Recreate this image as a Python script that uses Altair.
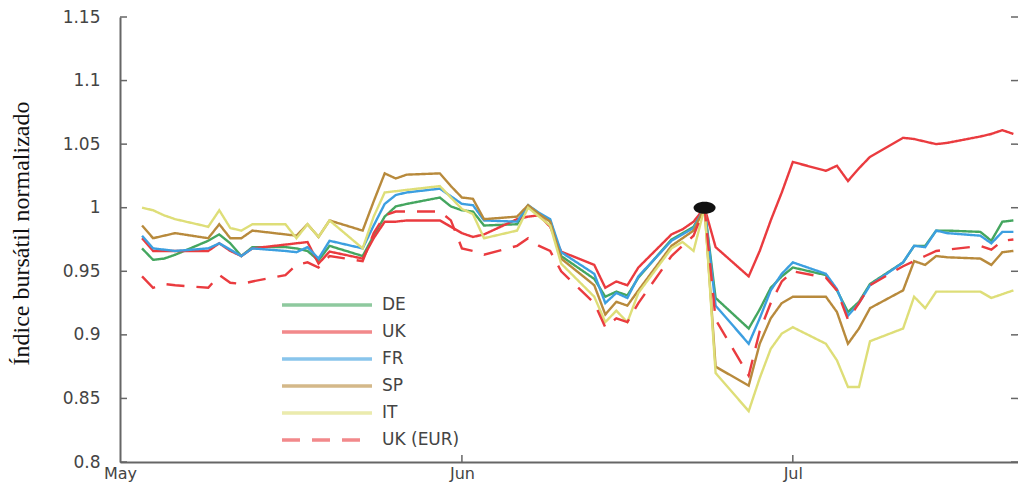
import altair as alt
import pandas as pd

# ---- data ----
DATES = [
    "2016-05-03", "2016-05-04", "2016-05-05", "2016-05-06", "2016-05-09", "2016-05-10",
    "2016-05-11", "2016-05-12", "2016-05-13", "2016-05-16", "2016-05-17", "2016-05-18",
    "2016-05-19", "2016-05-20", "2016-05-23", "2016-05-24", "2016-05-25", "2016-05-26",
    "2016-05-27", "2016-05-30", "2016-05-31",
    "2016-06-01", "2016-06-02", "2016-06-03", "2016-06-06", "2016-06-07", "2016-06-08",
    "2016-06-09", "2016-06-10", "2016-06-13", "2016-06-14", "2016-06-15", "2016-06-16",
    "2016-06-17", "2016-06-20", "2016-06-21", "2016-06-22", "2016-06-23", "2016-06-24",
    "2016-06-27", "2016-06-28", "2016-06-29", "2016-06-30",
    "2016-07-01", "2016-07-04", "2016-07-05", "2016-07-06", "2016-07-07", "2016-07-08",
    "2016-07-11", "2016-07-12", "2016-07-13", "2016-07-14", "2016-07-15", "2016-07-18",
    "2016-07-19", "2016-07-20", "2016-07-21",
]

DE = [0.968, 0.959, 0.960, 0.963, 0.974, 0.979, 0.972, 0.962, 0.969, 0.969, 0.968, 0.966,
      0.9585, 0.970, 0.962, 0.978, 0.993, 1.001, 1.003, 1.008, 1.001,
      0.998, 0.997, 0.986, 0.987, 1.001, 0.995, 0.990, 0.962, 0.944, 0.930, 0.934, 0.931,
      0.945, 0.975, 0.980, 0.985, 1.000, 0.929, 0.905, 0.920, 0.937, 0.946,
      0.953, 0.947, 0.935, 0.918, 0.926, 0.940, 0.957, 0.970, 0.970, 0.982, 0.982, 0.981,
      0.974, 0.989, 0.990]

UK = [0.976, 0.966, 0.966, 0.966, 0.966, 0.972, 0.966, 0.962, 0.968, 0.971, 0.972, 0.973,
      0.956, 0.9655, 0.960, 0.976, 0.989, 0.989, 0.990, 0.990, 0.985,
      0.980, 0.977, 0.979, 0.991, 0.993, 0.994, 0.985, 0.9655, 0.955, 0.937, 0.942, 0.939,
      0.953, 0.979, 0.983, 0.989, 1.000, 0.969, 0.946, 0.966, 0.990, 1.012,
      1.036, 1.029, 1.033, 1.021, 1.031, 1.040, 1.055, 1.054, 1.052, 1.050, 1.051, 1.056,
      1.058, 1.061, 1.058]

FR = [0.978, 0.968, 0.967, 0.966, 0.968, 0.972, 0.967, 0.962, 0.968, 0.966, 0.965, 0.969,
      0.960, 0.974, 0.968, 0.986, 1.003, 1.010, 1.012, 1.015, 1.009,
      1.003, 1.002, 0.990, 0.989, 1.002, 0.996, 0.991, 0.965, 0.948, 0.925, 0.933, 0.929,
      0.946, 0.974, 0.979, 0.984, 1.000, 0.923, 0.893, 0.913, 0.935, 0.948,
      0.957, 0.948, 0.936, 0.915, 0.925, 0.939, 0.957, 0.970, 0.969, 0.982, 0.980, 0.978,
      0.972, 0.981, 0.981]

SP = [0.986, 0.976, 0.978, 0.980, 0.976, 0.987, 0.976, 0.976, 0.982, 0.979, 0.978, 0.987,
      0.977, 0.990, 0.982, 1.005, 1.027, 1.023, 1.026, 1.027, 1.017,
      1.008, 1.007, 0.991, 0.993, 1.002, 0.995, 0.989, 0.960, 0.939, 0.916, 0.926, 0.923,
      0.935, 0.970, 0.976, 0.982, 1.000, 0.875, 0.860, 0.893, 0.913, 0.925,
      0.930, 0.930, 0.918, 0.893, 0.905, 0.921, 0.935, 0.958, 0.955, 0.962, 0.961, 0.960,
      0.955, 0.965, 0.966]

IT = [1.000, 0.998, 0.994, 0.991, 0.985, 0.998, 0.984, 0.982, 0.987, 0.987, 0.976, 0.987,
      0.977, 0.990, 0.968, 0.993, 1.012, 1.013, 1.014, 1.017, 1.008,
      0.999, 0.995, 0.976, 0.982, 1.000, 0.993, 0.986, 0.956, 0.930, 0.910, 0.919, 0.910,
      0.933, 0.968, 0.973, 0.966, 1.000, 0.870, 0.840, 0.866, 0.889, 0.901,
      0.906, 0.893, 0.880, 0.859, 0.859, 0.895, 0.905, 0.930, 0.921, 0.934, 0.934, 0.934,
      0.929, 0.932, 0.935]

UK_EUR = [0.946, 0.937, 0.940, 0.939, 0.937, 0.947, 0.941, 0.940, 0.942, 0.947, 0.955, 0.957,
          0.953, 0.962, 0.958, 0.980, 0.994, 0.997, 0.997, 0.997, 0.990,
          0.968, 0.966, 0.963, 0.970, 0.976, 0.970, 0.966, 0.950, 0.925, 0.906, 0.913, 0.910,
          0.925, 0.962, 0.970, 0.978, 1.000, 0.912, 0.868, 0.903, 0.925, 0.942,
          0.950, 0.945, 0.935, 0.912, 0.925, 0.939, 0.954, 0.958, 0.962, 0.966, 0.967, 0.970,
          0.967, 0.974, 0.975]

SERIES = ["DE", "UK", "FR", "SP", "IT", "UK (EUR)"]
COLORS = ["#44a65f", "#ea3b3f", "#3c9fe0", "#b88a3c", "#dede78", "#ea3b3f"]
DASHES = [[1, 0], [1, 0], [1, 0], [1, 0], [1, 0], [18, 12]]

EVENT_DATE = ["2016-06-23"]
EVENT_VALUE = [1.0]

Y_TICKS = [0.8, 0.85, 0.9, 0.95, 1.0, 1.05, 1.1, 1.15]
X_LABEL_DATES = [(2016, 5, 1), (2016, 6, 1), (2016, 7, 1)]
X_TICK_MARKS = ["2016-06-01", "2016-07-01"]

# ---- build tables ----
rows = []
for name, vals in zip(SERIES, [DE, UK, FR, SP, IT, UK_EUR]):
    for d, v in zip(DATES, vals):
        rows.append({"date": d, "value": v, "series": name})
df = pd.DataFrame(rows)
df_event = pd.DataFrame({"date": EVENT_DATE, "value": EVENT_VALUE})
df_yt = pd.DataFrame({"date": ["2016-05-01"] * len(Y_TICKS), "value": Y_TICKS})
df_xt = pd.DataFrame({"date": X_TICK_MARKS, "value": [0.8] * len(X_TICK_MARKS)})

W, H = 898, 445
x_scale = alt.Scale(
    type="utc",
    domain=[alt.DateTime(year=2016, month=5, date=1, utc=True),
            alt.DateTime(year=2016, month=7, date=21, hours=10, utc=True)],
)
y_scale = alt.Scale(domain=[0.8, 1.15], nice=False, zero=False)

AX_FONT = "DejaVu Sans"
x_axis = alt.Axis(values=[alt.DateTime(year=y, month=m, date=d, utc=True) for y, m, d in X_LABEL_DATES],
                  format="%b", tickSize=0, labelPadding=3, labelFont=AX_FONT,
                  labelFontSize=16, labelColor="#444", domainColor="#666",
                  domainWidth=2, grid=False, title=None, labelFlush=False)
y_axis = alt.Axis(values=Y_TICKS, format="~g", tickSize=0, labelPadding=20,
                  labelFont=AX_FONT, labelFontSize=17, labelColor="#444",
                  domainColor="#666", domainWidth=2, grid=False,
                  title="Índice bursátil normalizado", titleFont="Liberation Serif",
                  titleFontSize=24, titleFontWeight="normal", titleColor="#111",
                  titleX=-99, titleY=216, titleAlign="center", titleBaseline="middle")
X = alt.X("date:T", scale=x_scale, axis=x_axis)
Y = alt.Y("value:Q", scale=y_scale, axis=y_axis)

legend = alt.Legend(
    title=None, orient="none", legendX=160, legendY=278, padding=0,
    symbolType="stroke", symbolSize=8100, symbolStrokeWidth=3.5, symbolOpacity=0.6,
    labelFont=AX_FONT, labelFontSize=17, labelColor="#444", labelOffset=8,
    rowPadding=7, clipHeight=20,
)

lines = alt.Chart(df).mark_line(strokeWidth=2.4).encode(
    x=X, y=Y,
    color=alt.Color("series:N", scale=alt.Scale(domain=SERIES, range=COLORS),
                    sort=SERIES, legend=legend),
    strokeDash=alt.StrokeDash("series:N", scale=alt.Scale(domain=SERIES, range=DASHES),
                              sort=SERIES, legend=legend),
    order=alt.Order("date:T"),
)

dot = alt.Chart(df_event).mark_point(
    shape="M -1 0 A 1 0.55 0 1 1 1 0 A 1 0.55 0 1 1 -1 0 Z",
    filled=True, size=484, color="#111", opacity=1,
).encode(x=X, y=Y)

left_ticks = alt.Chart(df_yt).mark_rule(color="#666", strokeWidth=1.5).encode(
    y=Y, x=alt.value(0), x2=alt.value(7))
right_ticks = alt.Chart(df_yt).mark_rule(color="#666", strokeWidth=1.5).encode(
    y=Y, x=alt.value(W - 7), x2=alt.value(W))
bottom_ticks = alt.Chart(df_xt).mark_rule(color="#666", strokeWidth=1.5).encode(
    x=X, y=alt.value(H), y2=alt.value(H - 7))

chart = alt.layer(lines, dot, left_ticks, right_ticks, bottom_ticks).properties(
    width=W, height=H,
    autosize=alt.AutoSizeParams(type="none"),
    padding={"left": 112, "top": 9, "right": 0, "bottom": 22},
    background="white",
).configure_view(stroke=None)

chart.save("out.html", embed_options={"renderer": "svg", "actions": False})
